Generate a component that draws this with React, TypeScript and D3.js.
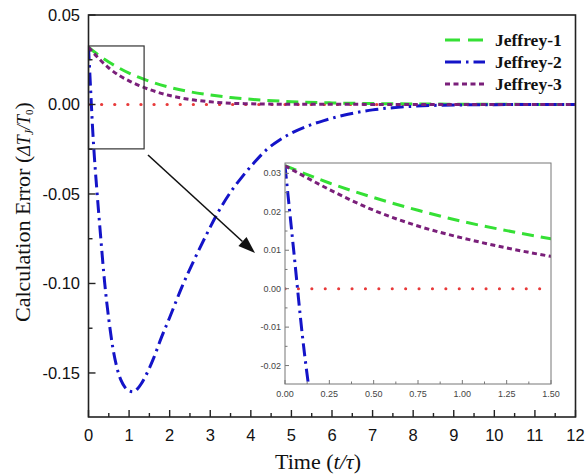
import React from "react";
import * as d3 from "d3";

// ---------- data ----------
const seriesNames = ["Jeffrey-1", "Jeffrey-2", "Jeffrey-3"];

const tJ1 = [0, 0.25, 0.5, 0.75, 1.0, 1.25, 1.5, 2, 2.5, 3, 3.5, 4, 5, 6, 7, 8, 10, 12];
const vJ1 = [0.032, 0.0275, 0.0237, 0.0204, 0.0175, 0.0151, 0.013, 0.0096, 0.0071, 0.0053, 0.0039, 0.0029, 0.0016, 0.0009, 0.0005, 0.0003, 0.0001, 0];

const tJ2 = [0, 0.05, 0.1, 0.15, 0.2, 0.3, 0.4, 0.5, 0.6, 0.7, 0.8, 0.9, 1.0, 1.1, 1.2, 1.3, 1.4, 1.6, 1.8, 2.0, 2.3, 2.6, 2.9, 3.2, 3.5, 3.8, 4.1, 4.4, 4.7, 5.0, 5.4, 5.8, 6.2, 6.6, 7.0, 7.5, 8.0, 9.0, 10, 11, 12];
const vJ2 = [0.032, 0.0095, -0.013, -0.031, -0.046, -0.074, -0.1, -0.12, -0.136, -0.147, -0.154, -0.158, -0.16, -0.1605, -0.159, -0.156, -0.152, -0.142, -0.13, -0.119, -0.102, -0.087, -0.073, -0.06, -0.049, -0.04, -0.032, -0.025, -0.02, -0.016, -0.012, -0.009, -0.0065, -0.0045, -0.003, -0.0018, -0.001, -0.0003, -0.0001, 0, 0];

const tJ3 = [0, 0.25, 0.5, 0.75, 1.0, 1.25, 1.5, 2, 2.5, 3, 3.5, 4, 5, 6, 8, 12];
const vJ3 = [0.032, 0.0258, 0.0204, 0.0163, 0.0132, 0.0106, 0.0084, 0.005, 0.0028, 0.0015, 0.0007, 0.0004, 0.0001, 0.0001, 0, 0];

const tZero = [0, 12];
const vZero = [0, 0];

const xTicks = [0, 1, 2, 3, 4, 5, 6, 7, 8, 9, 10, 11, 12];
const yTicks = [0.05, 0, -0.05, -0.1, -0.15];
const insetXTicks = [0, 0.25, 0.5, 0.75, 1.0, 1.25, 1.5];
const insetYTicks = [0.03, 0.02, 0.01, 0, -0.01, -0.02];

// zoom window (data units)
const zoomX = [0, 1.37];
const zoomY = [-0.0248, 0.0327];

// ---------- layout ----------
const W = 585, H = 475;
const M = { l: 88.5, r: 575.5, t: 15, b: 417 };
const I = { l: 285, r: 551, t: 163, b: 384 };

const colors = ["#35e035", "#1414c8", "#7a1f7a"];
const dashes = ["12,7", "13,5,2.5,5", "5,3.5"];
const red = "#e83a3a";

const zip = (t: number[], v: number[]) => t.map((x, i) => [x, v[i]] as [number, number]);
const seriesData = [zip(tJ1, vJ1), zip(tJ2, vJ2), zip(tJ3, vJ3)];
const zeroData = zip(tZero, vZero);

export default function App() {
  const x = d3.scaleLinear().domain([0, 12]).range([M.l, M.r]);
  const y = d3.scaleLinear().domain([-0.1746, 0.05]).range([M.b, M.t]);
  const xi = d3.scaleLinear().domain([0, 1.5]).range([I.l, I.r]);
  const yi = d3.scaleLinear().domain([zoomY[0], zoomY[1]]).range([I.b, I.t]);

  const line = d3.line<[number, number]>().x(d => x(d[0])).y(d => y(d[1])).curve(d3.curveMonotoneX);
  const lineI = d3.line<[number, number]>().x(d => xi(d[0])).y(d => yi(d[1])).curve(d3.curveMonotoneX);

  const xMinor = d3.range(0.5, 12, 1);
  const yMinor = [0.025, -0.025, -0.075, -0.125];
  const ixMinor = d3.range(0.125, 1.5, 0.25);
  const iyMinor = [0.025, 0.015, 0.005, -0.005, -0.015];

  const sans = "'Liberation Sans', Arial, sans-serif";
  const serif = "'Liberation Serif', 'Times New Roman', serif";

  // arrow
  const a0 = [148, 155], a1 = [255, 253];
  const ang = Math.atan2(a1[1] - a0[1], a1[0] - a0[0]);
  const hl = 17, hw = 6;
  const bx = a1[0] - hl * Math.cos(ang), by = a1[1] - hl * Math.sin(ang);
  const head = `M${a1[0]},${a1[1]} L${bx + hw * Math.sin(ang)},${by - hw * Math.cos(ang)} L${bx - hw * Math.sin(ang)},${by + hw * Math.cos(ang)} Z`;

  const legendRows = [40, 62, 84];

  return (
    <svg width={W} height={H} style={{ position: "absolute", left: 0, top: 0, background: "#fff" }}>
      <defs>
        <clipPath id="mainClip"><rect x={M.l} y={M.t} width={M.r - M.l} height={M.b - M.t} /></clipPath>
        <clipPath id="insetClip"><rect x={I.l} y={I.t} width={I.r - I.l} height={I.b - I.t} /></clipPath>
      </defs>

      {/* main curves */}
      <g clipPath="url(#mainClip)">
        <path d={line(zeroData) || ""} fill="none" stroke={red} strokeWidth={3.2} strokeDasharray="0.1,13" strokeLinecap="round" />
        {seriesData.map((s, i) => (
          <path key={i} d={line(s) || ""} fill="none" stroke={colors[i]} strokeWidth={3} strokeDasharray={dashes[i]} />
        ))}
      </g>

      {/* zoom box */}
      <rect x={x(zoomX[0])} y={y(zoomY[1])} width={x(zoomX[1]) - x(zoomX[0])} height={y(zoomY[0]) - y(zoomY[1])} fill="none" stroke="#333" strokeWidth={1.2} />

      {/* arrow */}
      <line x1={a0[0]} y1={a0[1]} x2={bx} y2={by} stroke="#111" strokeWidth={1.6} />
      <path d={head} fill="#111" />

      {/* main frame */}
      <rect x={M.l} y={M.t} width={M.r - M.l} height={M.b - M.t} fill="none" stroke="#222" strokeWidth={1.6} />
      {xTicks.map(t => (
        <g key={"xt" + t}>
          <line x1={x(t)} x2={x(t)} y1={M.b} y2={M.b - 7} stroke="#222" strokeWidth={1.4} />
          <text x={x(t)} y={441} textAnchor="middle" fontFamily={sans} fontSize={16.5} fill="#111">{t}</text>
        </g>
      ))}
      {xMinor.map(t => (
        <line key={"xm" + t} x1={x(t)} x2={x(t)} y1={M.b} y2={M.b - 4} stroke="#222" strokeWidth={1.4} />
      ))}
      {yTicks.map(v => (
        <g key={"yt" + v}>
          <line x1={M.l} x2={M.l + 7} y1={y(v)} y2={y(v)} stroke="#222" strokeWidth={1.4} />
          <text x={80} y={y(v) + 6} textAnchor="end" fontFamily={sans} fontSize={16.5} fill="#111">{d3.format(".2f")(v).replace("−", "-")}</text>
        </g>
      ))}
      {yMinor.map(v => (
        <line key={"ym" + v} x1={M.l} x2={M.l + 4} y1={y(v)} y2={y(v)} stroke="#222" strokeWidth={1.4} />
      ))}

      {/* axis titles */}
      <text x={318} y={469} textAnchor="middle" fontFamily={serif} fontSize={22} fill="#111">
        Time <tspan>(</tspan><tspan fontStyle="italic">t/τ</tspan><tspan>)</tspan>
      </text>
      <text transform="translate(30,212) rotate(-90)" textAnchor="middle" fontFamily={serif} fontSize={22} fill="#111">
        Calculation Error (<tspan fontStyle="italic" fontSize={18}>ΔT</tspan><tspan fontSize={12} dy={3} fontStyle="italic">J</tspan><tspan fontStyle="italic" fontSize={18} dy={-3}>/T</tspan><tspan fontSize={11} dy={3}>0</tspan><tspan dy={-3}>)</tspan>
      </text>

      {/* legend */}
      {seriesNames.map((n, i) => (
        <g key={n}>
          <line x1={445} x2={485} y1={legendRows[i]} y2={legendRows[i]} stroke={colors[i]} strokeWidth={3} strokeDasharray={i === 0 ? "15,8" : i === 1 ? "16,5,2.5,5" : "5,3.5"} />
          <text x={495} y={legendRows[i] + 6} fontFamily={serif} fontWeight="bold" fontSize={17.5} fill="#111">{n}</text>
        </g>
      ))}

      {/* inset */}
      <rect x={I.l} y={I.t} width={I.r - I.l} height={I.b - I.t} fill="#fff" />
      <g clipPath="url(#insetClip)">
        <path d={lineI(zeroData) || ""} fill="none" stroke={red} strokeWidth={3} strokeDasharray="0.1,13.3" strokeLinecap="round" />
        {seriesData.map((s, i) => (
          <path key={i} d={lineI(s) || ""} fill="none" stroke={colors[i]} strokeWidth={3} strokeDasharray={dashes[i]} />
        ))}
      </g>
      <rect x={I.l} y={I.t} width={I.r - I.l} height={I.b - I.t} fill="none" stroke="#777" strokeWidth={1} />
      {insetXTicks.map(t => (
        <g key={"ixt" + t}>
          <line x1={xi(t)} x2={xi(t)} y1={I.b} y2={I.b - 4} stroke="#777" strokeWidth={1} />
          <text x={xi(t)} y={397} textAnchor="middle" fontFamily={sans} fontSize={9} fill="#444">{d3.format(".2f")(t)}</text>
        </g>
      ))}
      {ixMinor.map(t => (
        <line key={"ixm" + t} x1={xi(t)} x2={xi(t)} y1={I.b} y2={I.b - 2.5} stroke="#777" strokeWidth={1} />
      ))}
      {insetYTicks.map(v => (
        <g key={"iyt" + v}>
          <line x1={I.l} x2={I.l + 4} y1={yi(v)} y2={yi(v)} stroke="#777" strokeWidth={1} />
          <text x={281} y={yi(v) + 3} textAnchor="end" fontFamily={sans} fontSize={9} fill="#444">{d3.format(".2f")(v).replace("−", "-")}</text>
        </g>
      ))}
      {iyMinor.map(v => (
        <line key={"iym" + v} x1={I.l} x2={I.l + 2.5} y1={yi(v)} y2={yi(v)} stroke="#777" strokeWidth={1} />
      ))}
    </svg>
  );
}
